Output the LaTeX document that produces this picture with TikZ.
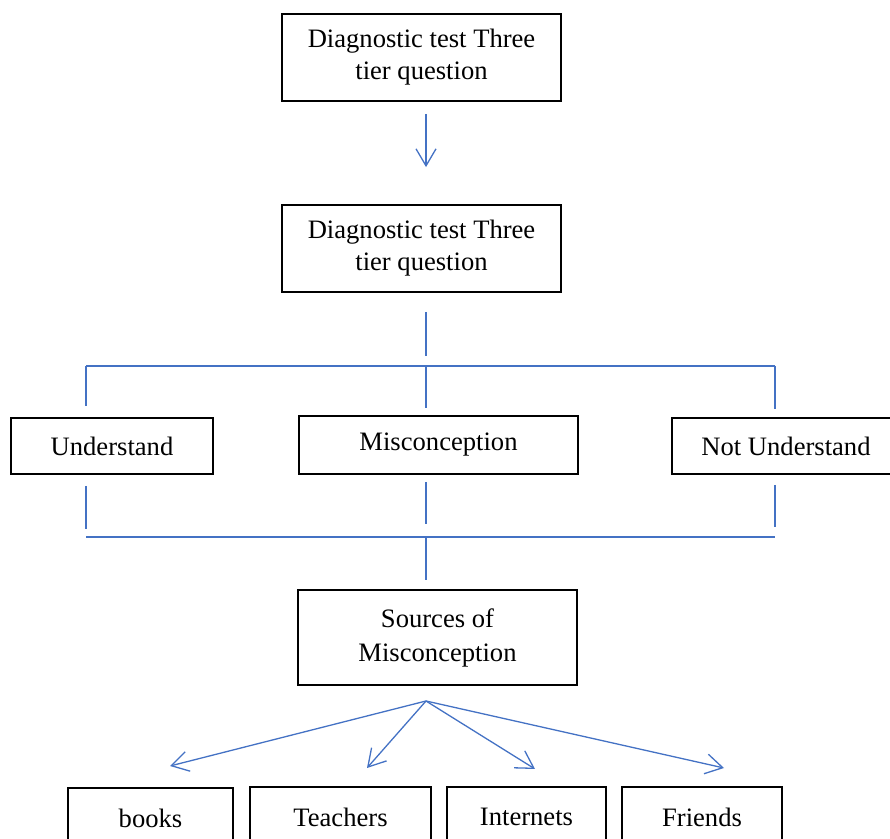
\documentclass[tikz,border=0pt]{standalone}
\usepackage{fontspec}
\setmainfont{Liberation Serif}
\usetikzlibrary{positioning,calc,arrows.meta}
\definecolor{cLink}{HTML}{4472C4}
\definecolor{cInk}{HTML}{000000}
\tikzset{
  box/.style={draw=cInk, line width=0.9pt, align=center, inner sep=2pt,
    font=\fontsize{13.3}{16}\selectfont, text=cInk},
  wide/.style={box, minimum width=139.5pt, minimum height=#1},
  small/.style={box, minimum width=#1, minimum height=30pt},
  link/.style={draw=cLink, line width=0.65pt},
  arrow/.style={link, -{Straight Barb[length=8.5pt,width=10pt]}},
}

\begin{document}
\begin{tikzpicture}[x=0.5pt,y=-0.5pt]
  \useasboundingbox (0,0) rectangle (890,839);

  % ---------- test ----------
  \node[wide=43.5pt] (q1) at (421.5,57.5) {Diagnostic test Three\\tier question};
  \node[wide=43.5pt] (q2) at (421.5,248.5) {Diagnostic test Three\\tier question};
  \draw[arrow, shorten <=6pt, shorten >=18.5pt] (q1.south -| 426,0) -- (q2.north -| 426,0);

  % ---------- results ----------
  \node[box, minimum width=101pt, minimum height=28pt] (und) at (112,446) {Understand};
  \node[wide=29pt] (mis) at (438.5,445) {Misconception};
  \node[box, minimum width=114pt, minimum height=28pt] (nund) at (786,446) {Not Understand};

  % ---------- bars ----------
  \coordinate (barL) at (86,366);
  \coordinate (barM) at (426,366);
  \coordinate (barR) at (775,366);
  \coordinate (lowL) at (86,537);
  \coordinate (lowM) at (426,537);
  \coordinate (lowR) at (775,537);

  \draw[link, shorten <=9.5pt, shorten >=5pt] (q2.south -| barM) -- (barM);
  \draw[link] (barL) -- (barR);
  \draw[link, shorten >=5.5pt] (barL) -- (und.north -| barL);
  \draw[link, shorten >=3.5pt] (barM) -- (mis.north -| barM);
  \draw[link, shorten >=4pt] (barR) -- (nund.north -| barR);

  \draw[link, shorten <=5.5pt, shorten >=4pt] (und.south -| lowL) -- (lowL);
  \draw[link, shorten <=3.5pt, shorten >=6.5pt] (mis.south -| lowM) -- (lowM);
  \draw[link, shorten <=5pt, shorten >=5pt] (nund.south -| lowR) -- (lowR);
  \draw[link] (lowL) -- (lowR);

  % ---------- sources ----------
  \node[wide=47.5pt] (src) at (437.5,637.5) {Sources of\\[1pt]Misconception};
  \draw[link, shorten >=4.5pt] (lowM) -- (src.north -| lowM);

  \node[small=82.5pt] (books) at (150.5,818) {books};
  \node[small=90.5pt] (teach) at (340.5,817) {Teachers};
  \node[small=79.5pt] (inet) at (526.5,817) {Internets};
  \node[small=80pt] (friends) at (702,817) {Friends};

  % ---------- fan ----------
  \coordinate (fan) at (426,701);
  \coordinate (tipB) at (170,766);
  \coordinate (tipT) at (367,768);
  \coordinate (tipI) at (535,769);
  \coordinate (tipF) at (724,768);
  \foreach \t in {tipB,tipT,tipI,tipF}
    \draw[arrow] (fan) -- (\t);

\end{tikzpicture}
\end{document}
